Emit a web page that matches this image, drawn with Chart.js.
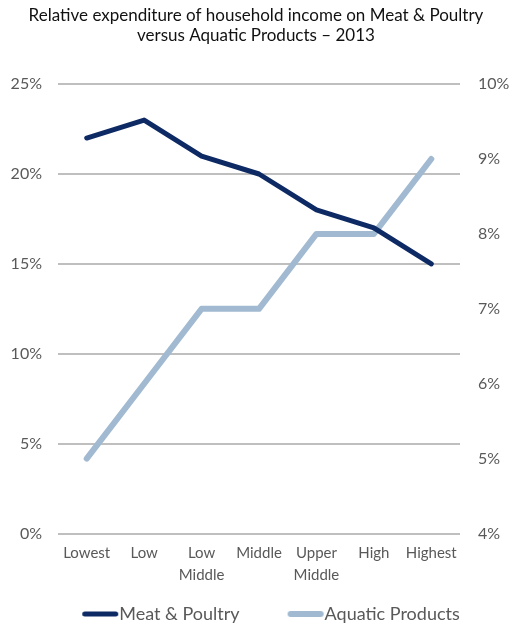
<!DOCTYPE html>
<html><head><meta charset="utf-8">
<script src="https://cdn.jsdelivr.net/npm/chart.js@4/dist/chart.umd.min.js"></script>
<style>html,body{margin:0;padding:0;background:#fff}#wrap{width:512px;height:629px}</style>
</head><body><div id="wrap"><canvas id="c" width="512" height="629"></canvas></div>
<script>
const categories = [["Lowest"], ["Low"], ["Low", "Middle"], ["Middle"], ["Upper", "Middle"], ["High"], ["Highest"]];
const meatPoultry = [22, 23, 21, 20, 18, 17, 15];
const aquaticProducts = [5, 6, 7, 7, 8, 8, 9];
const titleLines = ["Relative expenditure of household income on Meat & Poultry", "versus Aquatic Products \u2013 2013"];

const FONT = "Lato, 'Open Sans', sans-serif";
const GREY = "#595959";
const COLORS = ["#0E2A64", "#A1BAD1"];
const WIDTHS = [5, 6];
const LEGEND_FONT = 18;
const BOX_W = 68;       // legend box width (spacing)
const SAMPLE_LEN = 36;  // visible legend line length
const LEGEND_SHIFT = { x: -5, y: 2 };

function legendLine(color, width) {
  const half = LEGEND_FONT / 2;
  const imgW = 2 * (BOX_W / 2 + half);
  const c = document.createElement('canvas');
  c.width = imgW; c.height = 10;
  const g = c.getContext('2d');
  g.strokeStyle = color; g.lineWidth = width; g.lineCap = 'round';
  g.beginPath(); g.moveTo(imgW - SAMPLE_LEN - 1 + width / 2, 5); g.lineTo(imgW - 1 - width / 2, 5); g.stroke();
  return c;
}

const legendNudge = {
  id: 'legendNudge',
  afterLayout(chart) {
    const l = chart.legend;
    if (!l) return;
    l.left += LEGEND_SHIFT.x; l.right += LEGEND_SHIFT.x;
    l.top += LEGEND_SHIFT.y; l.bottom += LEGEND_SHIFT.y;
  }
};

new Chart(document.getElementById('c'), {
  type: 'line',
  data: {
    labels: categories,
    datasets: [
      { label: "Meat & Poultry", data: meatPoultry, yAxisID: 'yL', borderColor: COLORS[0], backgroundColor: COLORS[0], borderWidth: WIDTHS[0], pointRadius: 0, tension: 0, borderCapStyle: 'round', borderJoinStyle: 'round' },
      { label: "Aquatic Products", data: aquaticProducts, yAxisID: 'yR', borderColor: COLORS[1], backgroundColor: COLORS[1], borderWidth: WIDTHS[1], pointRadius: 0, tension: 0, borderCapStyle: 'round', borderJoinStyle: 'round' }
    ]
  },
  plugins: [legendNudge],
  options: {
    responsive: false, animation: false, devicePixelRatio: 1,
    layout: { padding: { left: 0, right: 0, top: 0, bottom: -2 } },
    plugins: {
      title: { display: true, text: titleLines, color: "#111", font: { family: FONT, size: 17, weight: 'normal', lineHeight: 1.18 }, padding: { top: 5, bottom: 39 } },
      legend: { position: 'bottom', labels: { color: GREY, font: { family: FONT, size: LEGEND_FONT }, usePointStyle: true, pointStyleWidth: BOX_W, boxWidth: BOX_W, boxHeight: 6, padding: 8,
        generateLabels: chart => chart.data.datasets.map((ds, i) => ({ text: ds.label, fillStyle: COLORS[i], strokeStyle: COLORS[i], lineWidth: 0, pointStyle: legendLine(COLORS[i], WIDTHS[i]), datasetIndex: i, hidden: false, fontColor: GREY })) } },
      tooltip: { enabled: false }
    },
    scales: {
      x: { grid: { display: false, drawTicks: false }, border: { display: false }, offset: true,
           ticks: { color: GREY, font: { family: FONT, size: 15, lineHeight: 1.45 }, padding: 9, maxRotation: 0, autoSkip: false } },
      yL: { position: 'left', min: 0, max: 25, afterFit: s => { s.width = 58; },
            ticks: { stepSize: 5, color: GREY, font: { family: FONT, size: 16 }, padding: 16, callback: v => v + '%' },
            grid: { color: "#BFBFBF", lineWidth: 2, drawTicks: false }, border: { display: false } },
      yR: { position: 'right', min: 4, max: 10, afterFit: s => { s.width = 52; },
            ticks: { stepSize: 1, color: GREY, font: { family: FONT, size: 16 }, padding: 18, callback: v => v + '%' },
            grid: { display: false, drawTicks: false }, border: { display: false } }
    }
  }
});
</script></body></html>
